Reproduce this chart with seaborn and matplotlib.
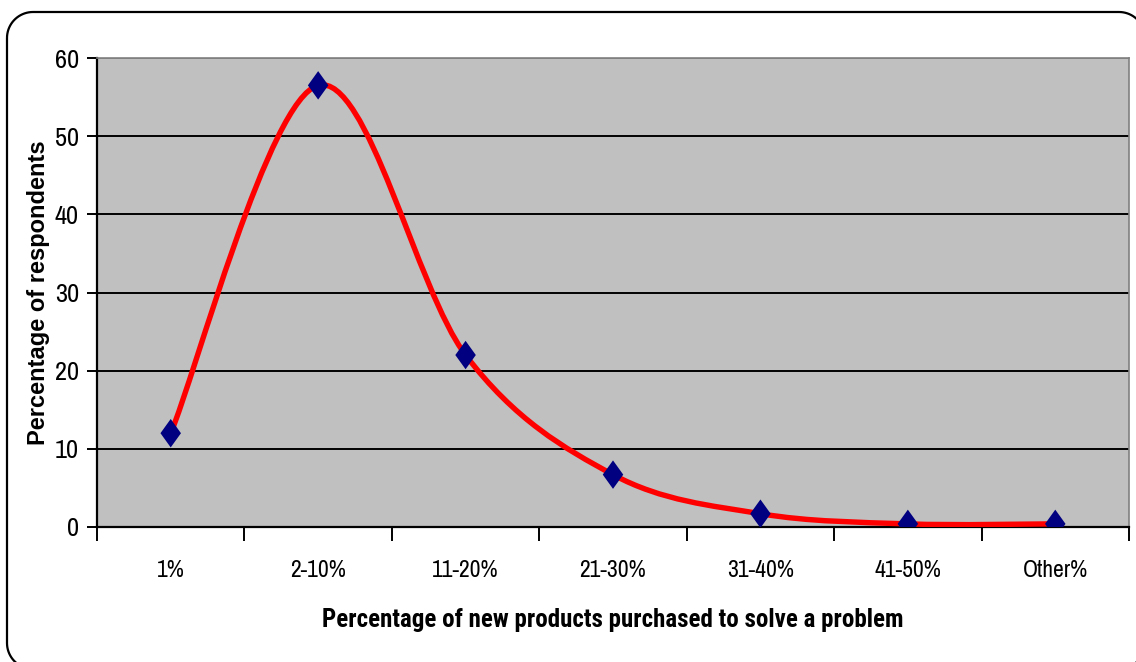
import matplotlib
matplotlib.use("Agg")
import matplotlib.pyplot as plt
import seaborn as sns
import numpy as np
import pandas as pd
import logging
from matplotlib.path import Path
from matplotlib.patches import PathPatch
from matplotlib.ticker import FixedLocator, NullFormatter, FixedFormatter

logging.getLogger("matplotlib.font_manager").setLevel(logging.ERROR)

categories = ["1%", "2-10%", "11-20%", "21-30%", "31-40%", "41-50%", "Other%"]
values = [12, 56.5, 22, 6.7, 1.7, 0.4, 0.4]
y_ticks = [0, 10, 20, 30, 40, 50, 60]
x_label = "Percentage of new products purchased to solve a problem"
y_label = "Percentage of respondents"

sns.set_theme(style="white")
NARROW = ['Liberation Sans Narrow', 'Archivo Narrow', 'Liberation Sans', 'DejaVu Sans']
NARROW_BOLD = ['Liberation Sans Narrow', 'Roboto Condensed', 'Archivo Narrow', 'Liberation Sans', 'DejaVu Sans']
plt.rcParams['font.family'] = NARROW

df = pd.DataFrame({"cat": categories, "val": values, "pos": np.arange(len(categories))})

W, H = 1136, 662
fig = plt.figure(figsize=(W / 100, H / 100), dpi=100)

# background axes in pixel coordinates (y down) for the rounded border
bg = fig.add_axes([0, 0, 1, 1], zorder=-5)
bg.set_xlim(0, W)
bg.set_ylim(H, 0)
bg.axis("off")


def rounded_rect(x0, y0, x1, y1, r):
    def arc(cx, cy, a0, a1):
        t = np.linspace(np.radians(a0), np.radians(a1), 20)
        return [(cx + r * np.cos(a), cy + r * np.sin(a)) for a in t]
    pts = []
    pts += arc(x0 + r, y0 + r, 180, 270)   # top-left (y down)
    pts += arc(x1 - r, y0 + r, 270, 360)   # top-right
    pts += arc(x1 - r, y1 - r, 0, 90)      # bottom-right
    pts += arc(x0 + r, y1 - r, 90, 180)    # bottom-left
    pts.append(pts[0])
    codes = [Path.MOVETO] + [Path.LINETO] * (len(pts) - 1)
    return Path(pts, codes)


bg.add_patch(PathPatch(rounded_rect(7, 12, 1145, 669, 26), fill=False,
                       edgecolor="black", linewidth=1.6, clip_on=False))

ax = fig.add_axes([97 / W, 1 - 527 / H, (1129 - 97) / W, (527 - 58) / H])
ax.set_facecolor("#C0C0C0")

# smooth line (Excel-style Bezier smoothing through the data points)
x = df["pos"].to_numpy(dtype=float)
y = df["val"].to_numpy(dtype=float)
n = len(x)
verts = [(x[0], y[0])]
codes = [Path.MOVETO]
for i in range(n - 1):
    p0 = np.array([x[max(i - 1, 0)], y[max(i - 1, 0)]])
    p1 = np.array([x[i], y[i]])
    p2 = np.array([x[i + 1], y[i + 1]])
    p3 = np.array([x[min(i + 2, n - 1)], y[min(i + 2, n - 1)]])
    c1 = p1 + (p2 - p0) / 6.0
    c2 = p2 - (p3 - p1) / 6.0
    verts += [tuple(c1), tuple(c2), tuple(p2)]
    codes += [Path.CURVE4] * 3
ax.add_patch(PathPatch(Path(verts, codes), facecolor="none", edgecolor="#FF0000",
                       linewidth=3.9, capstyle="round", joinstyle="round", zorder=3))

diamond = Path([(0, 1), (0.72, 0), (0, -1), (-0.72, 0), (0, 1)],
               [Path.MOVETO, Path.LINETO, Path.LINETO, Path.LINETO, Path.CLOSEPOLY])
sns.scatterplot(data=df, x="pos", y="val", marker=diamond, s=420, color="#000080",
                edgecolor="none", linewidth=0, ax=ax, zorder=4, legend=False)

ax.set_xlim(-0.5, n - 0.5)
ax.set_ylim(0, 60)
ax.set_yticks(y_ticks)
ax.set_yticklabels([str(t) for t in y_ticks])
for t in y_ticks[1:]:
    ax.axhline(t, color="black" if t < 60 else "#808080", linewidth=1.4, zorder=1)

ax.xaxis.set_major_locator(FixedLocator(np.arange(-0.5, n, 1.0)))
ax.xaxis.set_major_formatter(NullFormatter())
ax.xaxis.set_minor_locator(FixedLocator(np.arange(n)))
ax.xaxis.set_minor_formatter(FixedFormatter(categories))
ax.tick_params(axis="x", which="major", length=10, width=1.4, color="black", direction="out", bottom=True)
ax.tick_params(axis="x", which="minor", length=0, pad=24, labelsize=17, labelcolor="black")
ax.tick_params(axis="y", which="major", length=7, width=1.4, color="black", direction="out",
               left=True, labelsize=19, labelcolor="black", pad=6)

for side in ["top", "right"]:
    ax.spines[side].set_color("#808080")
    ax.spines[side].set_linewidth(1.2)
for side in ["left", "bottom"]:
    ax.spines[side].set_color("black")
    ax.spines[side].set_linewidth(1.6)

ax.set_xlabel(x_label, fontsize=18, fontweight="bold", labelpad=16, color="black",
              family=NARROW_BOLD)
ax.xaxis.set_label_coords(0.5, -(608 - 527) / (527 - 58))
ax.set_ylabel(y_label, fontsize=17, fontweight="bold", labelpad=14, color="black",
              family=["Liberation Sans", "DejaVu Sans"])
ax.yaxis.set_label_coords(-47 / (1129 - 97), 0.5)

fig.savefig("out.png", dpi=100)
